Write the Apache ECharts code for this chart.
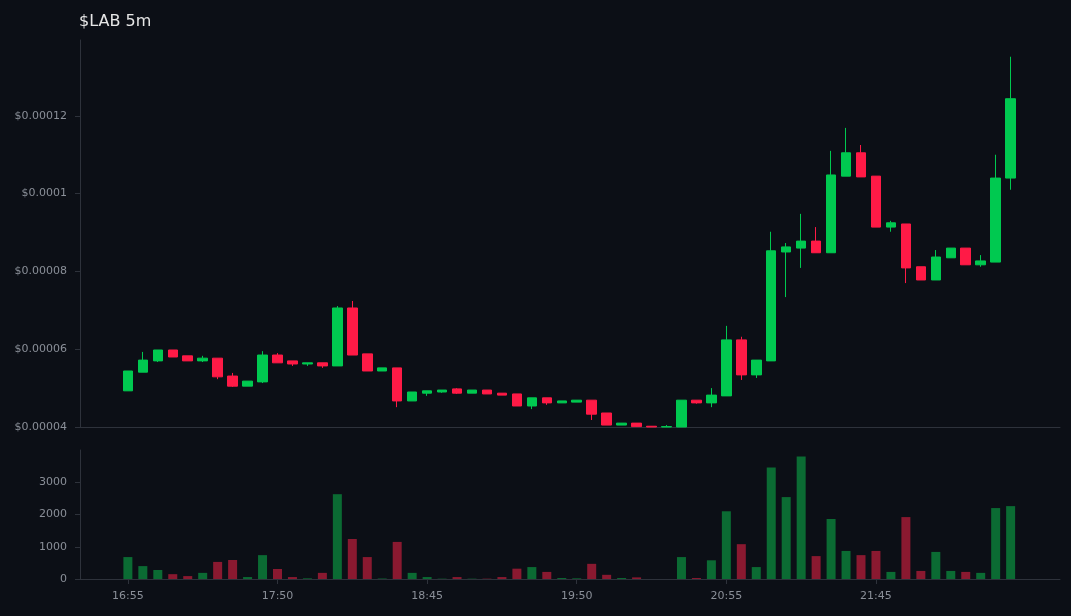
<!DOCTYPE html>
<html><head><meta charset="utf-8">
<script src="https://cdn.jsdelivr.net/npm/echarts@6/dist/echarts.min.js"></script>
<style>html,body{margin:0;padding:0;background:#0c0f16}#c{width:1071px;height:616px}</style>
</head><body><div id="c"></div>
<script>
const times=["16:55","17:00","17:05","17:10","17:15","17:20","17:25","17:30","17:40","17:45","17:50",
"17:55","18:00","18:05","18:10","18:15","18:20","18:30","18:35","18:40","18:45",
"18:50","18:55","19:00","19:05","19:10","19:20","19:30","19:40","19:45","19:50",
"19:55","20:00","20:05","20:10","20:20","20:30","20:40","20:45","20:50","20:55",
"21:00","21:05","21:10","21:15","21:20","21:25","21:30","21:35","21:40","21:45",
"21:50","21:55","22:00","22:05","22:10","22:15","22:20","22:25","22:30"];
// prices in units of 1e-5
const opens =[4.93,5.41,5.70,5.98,5.83,5.70,5.77,5.31,5.05,5.16,5.85,5.70,5.62,5.65,5.57,7.06,5.88,5.44,5.52,4.67,4.87,4.90,4.98,4.87,4.95,4.87,4.85,4.54,4.75,4.62,4.64,4.69,4.36,4.05,4.10,4.02,4.00,4.00,4.69,4.62,4.80,6.24,5.34,5.70,8.50,8.60,8.78,8.48,10.45,11.05,10.45,9.14,9.22,8.12,7.78,8.35,8.60,8.17,8.24,10.40];
const closes=[5.44,5.72,5.98,5.80,5.70,5.77,5.29,5.05,5.18,5.85,5.65,5.62,5.65,5.57,7.06,5.85,5.44,5.52,4.67,4.90,4.93,4.95,4.87,4.95,4.85,4.82,4.54,4.75,4.62,4.67,4.69,4.33,4.05,4.10,4.01,4.00,4.01,4.69,4.62,4.82,6.24,5.34,5.72,8.53,8.63,8.78,8.48,10.48,11.05,10.43,9.14,9.25,8.09,7.78,8.37,8.60,8.17,8.27,10.40,12.44];
const highs =[5.44,5.93,5.98,5.98,5.83,5.83,5.77,5.39,5.18,5.95,5.90,5.70,5.65,5.65,7.11,7.24,5.88,5.52,5.52,4.90,4.93,4.95,5.00,4.95,4.95,4.87,4.85,4.75,4.75,4.67,4.69,4.69,4.36,4.10,4.10,4.02,4.05,4.69,4.69,5.00,6.60,6.32,5.72,9.02,8.73,9.48,9.14,11.10,11.69,11.25,10.45,9.30,9.22,8.12,8.55,8.60,8.60,8.42,11.00,13.52];
const lows  =[4.93,5.41,5.67,5.80,5.70,5.67,5.23,5.03,5.05,5.13,5.65,5.57,5.57,5.52,5.57,5.85,5.44,5.44,4.51,4.67,4.80,4.88,4.85,4.87,4.85,4.82,4.54,4.46,4.57,4.62,4.64,4.18,4.05,4.05,4.00,4.00,4.00,4.00,4.60,4.51,4.80,5.21,5.26,5.70,7.34,8.09,8.48,8.48,10.45,10.43,9.14,9.02,7.70,7.78,7.78,8.35,8.17,8.12,8.24,10.10];
const volumes=[680,400,280,150,90,190,530,590,60,740,310,60,20,190,2630,1240,680,15,1150,190,60,10,60,10,10,60,320,370,220,30,20,470,130,30,50,0,0,680,30,580,2100,1080,370,3460,2540,3800,710,1860,870,740,870,220,1920,250,840,250,220,190,2200,2260];
const yTicks=[0.00004,0.00006,0.00008,0.0001,0.00012];
const xTickIdx=[0,10,20,30,40,50];
const SCALE=1e-5;
const UP='#00c950', DOWN='#ff1a46', VUP='#0b6b33', VDOWN='#8a1930';
const candles=opens.map((o,i)=>[i,o*SCALE,closes[i]*SCALE,lows[i]*SCALE,highs[i]*SCALE]);
const vol=volumes.map((v,i)=>({value:[i,v],itemStyle:{color:closes[i]>=opens[i]?VUP:VDOWN}}));
const lastClose=closes[closes.length-1]*SCALE;
const ch=echarts.init(document.getElementById('c'));
const axisC='#2e323b', lab={color:'#8a8f98',fontSize:11,fontFamily:'DejaVu Sans'};
const xa=(g,show)=>({type:'value',gridIndex:g,min:-3.2,max:62.3,
  axisLine:{onZero:false,lineStyle:{color:axisC}},axisTick:{show:show,lineStyle:{color:axisC},customValues:xTickIdx},
  axisLabel:Object.assign({show:show,margin:12,customValues:xTickIdx,formatter:v=>times[Math.round(v)]||''},lab),splitLine:{show:false}});
ch.setOption({
 backgroundColor:'#0c0f16',animation:false,
 title:{text:'$LAB 5m',left:74,top:9,textStyle:{color:'#e6e6e6',fontSize:16,fontWeight:'normal',fontFamily:'DejaVu Sans'}},
 grid:[{left:80,right:11,top:40,height:387},{left:80,right:11,top:450,height:129}],
 xAxis:[xa(0,false),xa(1,true)],
 yAxis:[
  {type:'value',gridIndex:0,min:yTicks[0],max:0.0001395,interval:0.00002,axisLine:{show:true,onZero:false,lineStyle:{color:axisC}},axisTick:{show:true,lineStyle:{color:axisC}},splitLine:{show:false},
   axisLabel:Object.assign({margin:13,showMaxLabel:false,formatter:v=>yTicks.some(t=>Math.abs(t-v)<1e-9)?'$'+(+v.toPrecision(3)):''},lab)},
  {type:'value',gridIndex:1,min:0,max:4000,interval:1000,axisLine:{show:true,onZero:false,lineStyle:{color:axisC}},axisTick:{show:true,lineStyle:{color:axisC}},splitLine:{show:false},
   axisLabel:Object.assign({margin:13,showMaxLabel:false,formatter:v=>String(v)},lab)}
 ],
 series:[
  {type:'candlestick',xAxisIndex:0,yAxisIndex:0,data:candles,clip:true,barWidth:10,
   encode:{x:0,y:[1,2,3,4]},
   itemStyle:{color:UP,color0:DOWN,borderColor:UP,borderColor0:DOWN,borderWidth:1},
   markLine:{symbol:'none',silent:true,label:{show:false},lineStyle:{color:'#c9a227',type:'dashed',width:1},data:[{yAxis:lastClose}]}},
  {type:'bar',xAxisIndex:1,yAxisIndex:1,data:vol,barWidth:9}
 ]
});
</script></body></html>
